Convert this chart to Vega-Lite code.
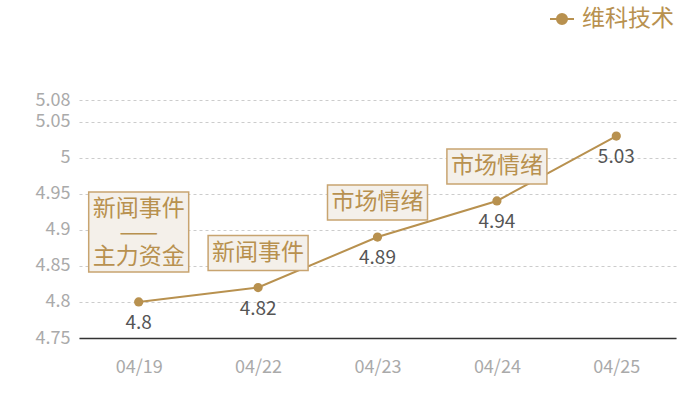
{
  "$schema": "https://vega.github.io/schema/vega-lite/v6.json",
  "autosize": {"type": "none"},
  "width": 597,
  "height": 238,
  "padding": {"left": 79, "top": 100, "right": 24, "bottom": 62},
  "background": "white",
  "config": {
    "font": "Noto Sans CJK SC",
    "view": {"stroke": null},
    "axis": {"labelFont": "Noto Sans CJK SC", "labelColor": "#aaaaaa", "labelFontSize": 18, "title": null}
  },
  "datasets": {
    "prices": [
      {"date": "04/19", "value": 4.8, "series": "维科技术"},
      {"date": "04/22", "value": 4.82, "series": "维科技术"},
      {"date": "04/23", "value": 4.89, "series": "维科技术"},
      {"date": "04/24", "value": 4.94, "series": "维科技术"},
      {"date": "04/25", "value": 5.03, "series": "维科技术"}
    ],
    "single": [
      {"date": "04/22", "value": 4.82, "note": "新闻事件"},
      {"date": "04/23", "value": 4.89, "note": "市场情绪"},
      {"date": "04/24", "value": 4.94, "note": "市场情绪"}
    ],
    "multi": [
      {"date": "04/19", "value": 4.8, "note": "新闻事件\n——\n主力资金"}
    ]
  },
  "layer": [
    {
      "data": {"name": "prices"},
      "mark": {"type": "line", "strokeWidth": 2, "point": {"filled": true, "size": 85, "opacity": 1}},
      "encoding": {
        "x": {"field": "date", "type": "ordinal", "scale": {"type": "point", "padding": 0.5},
              "axis": {"labelAngle": 0, "ticks": false, "grid": false, "domain": true, "domainColor": "#333333", "domainWidth": 1.5, "labelPadding": 20}},
        "y": {"field": "value", "type": "quantitative", "scale": {"domain": [4.75, 5.08], "nice": false, "zero": false},
              "axis": {"values": [4.75, 4.8, 4.85, 4.9, 4.95, 5, 5.05, 5.08], "tickCount": 50, "format": "~g", "labelOverlap": false, "ticks": false, "domain": false, "labelPadding": 9,
                       "grid": true, "gridDash": [3, 3], "gridColor": "#cccccc", "gridWidth": 1}},
        "color": {"field": "series", "type": "nominal", "scale": {"range": ["#b8914f"]},
                  "legend": {"title": null, "orient": "none", "legendX": 470, "legendY": -94, "padding": 0,
                             "symbolType": "M-1,0L1,0M0.42,0A0.42,0.42 0 1,1 -0.42,0A0.42,0.42 0 1,1 0.42,0Z",
                             "symbolSize": 576, "symbolStrokeWidth": 2, "symbolFillColor": "#b8914f", "symbolStrokeColor": "#b8914f",
                             "labelFontSize": 23, "labelColor": "#b8914f", "labelOffset": 7, "labelLimit": 200, "labelFont": "Noto Sans CJK SC"}}
      }
    },
    {
      "data": {"name": "prices"},
      "mark": {"type": "text", "dy": 21, "fontSize": 19, "color": "#555555", "baseline": "middle"},
      "encoding": {
        "x": {"field": "date", "type": "ordinal", "scale": {"type": "point", "padding": 0.5}},
        "y": {"field": "value", "type": "quantitative"},
        "text": {"field": "value", "type": "quantitative", "format": "~g"}
      }
    },
    {
      "data": {"name": "single"},
      "mark": {"type": "rect", "fill": "#f4f0ea", "stroke": "#c8a470", "strokeWidth": 1.5, "xOffset": -50, "x2Offset": 50, "yOffset": -52, "y2Offset": -17},
      "encoding": {
        "x": {"field": "date", "type": "ordinal", "scale": {"type": "point", "padding": 0.5}},
        "x2": {"field": "date"},
        "y": {"field": "value", "type": "quantitative"},
        "y2": {"field": "value"}
      }
    },
    {
      "data": {"name": "single"},
      "mark": {"type": "text", "dy": -35, "fontSize": 23, "color": "#b8914f", "baseline": "middle"},
      "encoding": {
        "x": {"field": "date", "type": "ordinal", "scale": {"type": "point", "padding": 0.5}},
        "y": {"field": "value", "type": "quantitative"},
        "text": {"field": "note", "type": "nominal"}
      }
    },
    {
      "data": {"name": "multi"},
      "mark": {"type": "rect", "fill": "#f4f0ea", "stroke": "#c8a470", "strokeWidth": 1.5, "xOffset": -50, "x2Offset": 50, "yOffset": -110, "y2Offset": -30},
      "encoding": {
        "x": {"field": "date", "type": "ordinal", "scale": {"type": "point", "padding": 0.5}},
        "x2": {"field": "date"},
        "y": {"field": "value", "type": "quantitative"},
        "y2": {"field": "value"}
      }
    },
    {
      "data": {"name": "multi"},
      "mark": {"type": "text", "dy": -93, "fontSize": 23, "lineHeight": 24, "lineBreak": "\n", "color": "#b8914f", "baseline": "middle"},
      "encoding": {
        "x": {"field": "date", "type": "ordinal", "scale": {"type": "point", "padding": 0.5}},
        "y": {"field": "value", "type": "quantitative"},
        "text": {"field": "note", "type": "nominal"}
      }
    }
  ]
}
